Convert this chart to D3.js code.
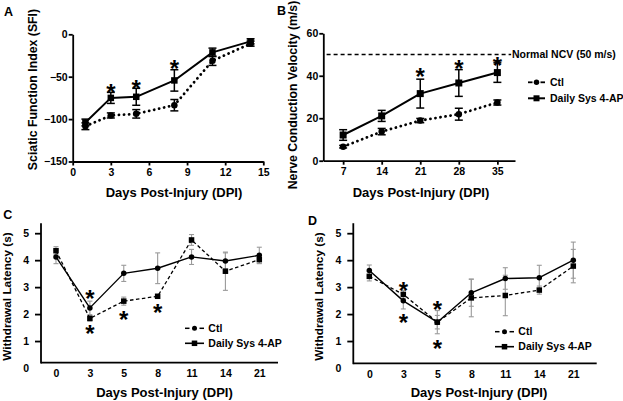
<!DOCTYPE html>
<html><head><meta charset="utf-8">
<script src="https://cdn.jsdelivr.net/npm/d3@7"></script>
<style>
body{margin:0;background:#fff;}
svg{display:block;}
text{font-family:"Liberation Sans",Arial,sans-serif;font-weight:bold;fill:#000;}
</style></head><body>
<svg id="c" width="623" height="401"></svg>
<script>
// ---------- Panel A: Sciatic Function Index ----------
const daysA = [1, 3, 5, 8, 11, 14];
const sfiCtl = [-108.4, -95.7, -93.8, -83.6, -31.2, -11];
const sfiCtlErr = [4, 3, 5, 6.7, 5.5, 3];
const sfiAP = [-104, -75, -73.7, -54.4, -21.3, -8.3];
const sfiAPErr = [4, 6.5, 10, 12.6, 5, 3];
const starsA = [[3, -62.6], [5, -57.9], [8, -34.3]];
const ticksAx = [0, 3, 6, 9, 12, 15];
const ticksAy = [0, -50, -100, -150];

// ---------- Panel B: Nerve Conduction Velocity ----------
const daysB = [7, 14, 21, 28, 35];
const ncvCtl = [6.6, 13.7, 18.9, 21.9, 27.4];
const ncvCtlErr = [0.6, 1.5, 1, 2.8, 1.2];
const ncvAP = [12.1, 21.1, 31.6, 36.6, 41.5];
const ncvAPErr = [2.5, 2.6, 6.8, 6.3, 4.6];
const normalNCV = 50;
const starsB = [[21, 42.3], [28, 45.9], [35, 47.5]];
const ticksBx = [7, 14, 21, 28, 35];
const ticksBy = [0, 20, 40, 60];

// ---------- Panels C & D: Withdrawal Latency ----------
const dpiCD = ["0", "3", "5", "8", "11", "14", "21"];
const ticksCDy = [0, 1, 2, 3, 4, 5];
// C: dashed line with squares, solid line with circles
const latCdash = [4.35, 1.84, 2.48, 2.66, 4.75, 3.59, 4.02];
const latCdashErr = [0.15, 0.1, 0.15, 0, 0.2, 0.71, 0.15];
const latCsolid = [4.12, 2.23, 3.51, 3.70, 4.12, 3.97, 4.18];
const latCsolidErr = [0.25, 0.25, 0.3, 0.57, 0.28, 0.3, 0.3];
const starsC = [["3", 2.79], ["3", 1.49], ["5", 2.0], ["8", 2.27]];
// D
const latDdash = [3.40, 2.73, 1.70, 2.60, 2.69, 2.89, 3.78];
const latDdashErr = [0.17, 0.15, 0.25, 0.7, 0.75, 0.15, 0.62];
const latDsolid = [3.62, 2.49, 1.70, 2.79, 3.32, 3.35, 4.0];
const latDsolidErr = [0.2, 0.3, 0.43, 0.5, 0.4, 0.46, 0.67];
const starsD = [["3", 3.07], ["3", 1.88], ["5", 2.37], ["5", 0.94]];

const legendLabels = ["Ctl", "Daily Sys 4-AP"];
const xTitle = "Days Post-Injury (DPI)";

const svg = d3.select("#c");
const FONT = '"Liberation Sans",Arial,sans-serif';

function styleAxis(sel, fs, w) {
  sel.attr("font-family", FONT).attr("font-size", fs).attr("font-weight", "bold");
  sel.select(".domain").attr("stroke-width", w).attr("stroke", "#000");
  sel.selectAll(".tick line").attr("stroke-width", w).attr("stroke", "#000");
  sel.selectAll(".tick text").attr("fill", "#000");
}
function errorBars(g, xs, ys, errs, x, y, cap, color, w) {
  xs.forEach((d, i) => {
    if (!errs[i]) return;
    const px = x(d), t = y(ys[i] + errs[i]), b = y(ys[i] - errs[i]);
    g.append("line").attr("x1", px).attr("x2", px).attr("y1", t).attr("y2", b)
      .attr("stroke", color).attr("stroke-width", w);
    [t, b].forEach(v => g.append("line").attr("x1", px - cap / 2).attr("x2", px + cap / 2)
      .attr("y1", v).attr("y2", v).attr("stroke", color).attr("stroke-width", w));
  });
}
function seriesLine(g, xs, ys, x, y, w, dash, cap) {
  const line = d3.line().x((d, i) => x(xs[i])).y(d => y(d));
  g.append("path").attr("d", line(ys)).attr("fill", "none").attr("stroke", "#000")
    .attr("stroke-width", w).attr("stroke-dasharray", dash || null)
    .attr("stroke-linecap", cap || "butt").attr("stroke-linejoin", "round");
}
function markers(g, xs, ys, x, y, type, s) {
  xs.forEach((d, i) => {
    const px = x(d), py = y(ys[i]);
    if (type === "sq") g.append("rect").attr("x", px - s / 2).attr("y", py - s / 2)
      .attr("width", s).attr("height", s).attr("fill", "#000");
    else g.append("circle").attr("cx", px).attr("cy", py).attr("r", s / 2).attr("fill", "#000");
  });
}
function stars(g, list, x, y, fs) {
  list.forEach(([a, b]) => g.append("text").attr("x", x(a)).attr("y", y(b) + 0.58 * fs)
    .attr("text-anchor", "middle").attr("font-size", fs).attr("font-weight", "normal").text("*"));
}
function legendRow(g, x0, x1, yy, tx, label, dashed, type, s, w, fs) {
  const mid = (x0 + x1) / 2;
  if (dashed) {
    g.append("line").attr("x1", x0).attr("x2", x0 + 4.5).attr("y1", yy).attr("y2", yy)
      .attr("stroke", "#000").attr("stroke-width", w);
    g.append("line").attr("x1", x1 - 4.5).attr("x2", x1).attr("y1", yy).attr("y2", yy)
      .attr("stroke", "#000").attr("stroke-width", w);
  } else {
    g.append("line").attr("x1", x0).attr("x2", x1).attr("y1", yy).attr("y2", yy)
      .attr("stroke", "#000").attr("stroke-width", w);
  }
  if (type === "sq") g.append("rect").attr("x", mid - s / 2).attr("y", yy - s / 2)
    .attr("width", s).attr("height", s);
  else g.append("circle").attr("cx", mid).attr("cy", yy).attr("r", s / 2);
  g.append("text").attr("x", tx).attr("y", yy + 0.36 * fs).attr("font-size", fs).text(label);
}
function yTitle(g, x, y, fs, txt) {
  g.append("text").attr("transform", `translate(${x},${y}) rotate(-90)`)
    .attr("text-anchor", "middle").attr("font-size", fs).text(txt);
}
function label(g, x, y, txt) {
  g.append("text").attr("x", x).attr("y", y).attr("font-size", 12.5).text(txt);
}

// ================= Panel A =================
{
  const g = svg.append("g");
  const x = d3.scaleLinear().domain([0, 15]).range([72.7, 263.3]);
  const y = d3.scaleLinear().domain([-150, 0]).range([161.5, 34.3]);
  g.append("g").attr("transform", "translate(0,161.5)")
    .call(d3.axisBottom(x).tickValues(ticksAx).tickSize(4).tickSizeOuter(0).tickPadding(3))
    .call(s => styleAxis(s, 10.5, 1.8));
  g.append("g").attr("transform", "translate(72.7,0)")
    .call(d3.axisLeft(y).tickValues(ticksAy).tickSize(4).tickSizeOuter(0).tickPadding(1))
    .call(s => styleAxis(s, 10.5, 1.8));
  errorBars(g, daysA, sfiCtl, sfiCtlErr, x, y, 8, "#000", 1.5);
  errorBars(g, daysA, sfiAP, sfiAPErr, x, y, 8, "#000", 1.5);
  seriesLine(g, daysA, sfiCtl, x, y, 2.8, "0.1,5", "round");
  seriesLine(g, daysA, sfiAP, x, y, 2);
  markers(g, daysA, sfiCtl, x, y, "ci", 6.5);
  markers(g, daysA, sfiAP, x, y, "sq", 6.5);
  stars(g, starsA, x, y, 24);
  yTitle(g, 37, 89.5, 12.3, "Sciatic Function Index (SFI)");
  g.append("text").attr("x", 174).attr("y", 196.5).attr("text-anchor", "middle")
    .attr("font-size", 13).text(xTitle);
  label(g, 4, 15.5, "A");
}

// ================= Panel B =================
{
  const g = svg.append("g");
  const x = d3.scaleLinear().domain([3.4, 38.2]).range([323.3, 515]);
  const y = d3.scaleLinear().domain([0, 60]).range([160.7, 33.3]);
  g.append("g").attr("transform", "translate(0,160.7)")
    .call(d3.axisBottom(x).tickValues(ticksBx).tickSize(4).tickSizeOuter(0).tickPadding(3))
    .call(s => styleAxis(s, 10.5, 1.8));
  g.append("g").attr("transform", "translate(323.3,0)")
    .call(d3.axisLeft(y).tickValues(ticksBy).tickSize(4).tickSizeOuter(0).tickPadding(1))
    .call(s => styleAxis(s, 10.5, 1.8));
  g.append("line").attr("x1", x(4)).attr("x2", x(37.5)).attr("y1", y(normalNCV)).attr("y2", y(normalNCV))
    .attr("stroke", "#000").attr("stroke-width", 1.6).attr("stroke-dasharray", "4,3");
  g.append("text").attr("x", 512).attr("y", y(normalNCV) + 3.8).attr("font-size", 10.5)
    .text("Normal NCV (50 m/s)");
  errorBars(g, daysB, ncvCtl, ncvCtlErr, x, y, 8, "#000", 1.5);
  errorBars(g, daysB, ncvAP, ncvAPErr, x, y, 8, "#000", 1.5);
  seriesLine(g, daysB, ncvCtl, x, y, 2.8, "0.1,5", "round");
  seriesLine(g, daysB, ncvAP, x, y, 2);
  markers(g, daysB, ncvCtl, x, y, "ci", 6.5);
  markers(g, daysB, ncvAP, x, y, "sq", 7);
  stars(g, starsB, x, y, 24);
  yTitle(g, 296.5, 95, 12.3, "Nerve Conduction Velocity (m/s)");
  g.append("text").attr("x", 421).attr("y", 196.5).attr("text-anchor", "middle")
    .attr("font-size", 13).text(xTitle);
  legendRow(g, 528, 545, 82.3, 550, legendLabels[0], true, "ci", 5.5, 1.8, 10.5);
  legendRow(g, 528, 545, 98.3, 550, legendLabels[1], false, "sq", 6, 2, 10.5);
  label(g, 277, 15, "B");
}

// ================= Panels C & D =================
function drawLatency(cfg) {
  const g = svg.append("g");
  const x = d3.scalePoint().domain(dpiCD).range([cfg.x0, cfg.x1]);
  const y = d3.scaleLinear().domain([0, 5]).range([368, 233.2]);
  // axes
  const ax = g.append("g").attr("transform", `translate(0,${cfg.axisY})`)
    .call(d3.axisBottom(x).tickSize(0).tickPadding(7))
    .call(s => styleAxis(s, 10.5, 1.8));
  ax.select(".domain").remove();
  g.append("line").attr("x1", cfg.axisX).attr("x2", cfg.axisEnd).attr("y1", cfg.axisY).attr("y2", cfg.axisY)
    .attr("stroke", "#000").attr("stroke-width", 1.8);
  const ay = g.append("g").attr("transform", `translate(${cfg.axisX},0)`)
    .call(d3.axisLeft(y).tickValues(ticksCDy).tickFormat(d3.format("d")).tickSize(6).tickSizeOuter(0).tickPadding(6))
    .call(s => styleAxis(s, 10.5, 1.8));
  ay.select(".domain").remove();
  ay.selectAll(".tick").filter(d => d === 0).select("line").remove();
  g.append("line").attr("x1", cfg.axisX).attr("x2", cfg.axisX).attr("y1", y(5.37)).attr("y2", cfg.axisY + 0.9)
    .attr("stroke", "#000").attr("stroke-width", 1.8);
  // data
  errorBars(g, dpiCD, cfg.dash, cfg.dashErr, x, y, 5, "#9a9a9a", 1.1);
  errorBars(g, dpiCD, cfg.solid, cfg.solidErr, x, y, 5, "#9a9a9a", 1.1);
  seriesLine(g, dpiCD, cfg.dash, x, y, 1.3, "3.5,2.5");
  seriesLine(g, dpiCD, cfg.solid, x, y, 1.4);
  markers(g, dpiCD, cfg.dash, x, y, "sq", 5.5);
  markers(g, dpiCD, cfg.solid, x, y, "ci", 5.5);
  stars(g, cfg.stars, x, y, 24);
  yTitle(g, cfg.ytX, 296.5, 11.8, "Withdrawal Latency (s)");
  g.append("text").attr("x", cfg.xtX).attr("y", 397).attr("text-anchor", "middle")
    .attr("font-size", 13).text(xTitle);
  legendRow(g, cfg.lx0, cfg.lx0 + 19, cfg.ly, cfg.lx0 + 23.3, legendLabels[0], true, "ci", 5, 1.5, 10.5);
  legendRow(g, cfg.lx0, cfg.lx0 + 19, cfg.ly + 15, cfg.lx0 + 23.3, legendLabels[1], false, "sq", 5.5, 1.6, 10.5);
  label(g, cfg.lblX, cfg.lblY, cfg.lbl);
}
drawLatency({ x0: 56, x1: 259.3, axisX: 41, axisEnd: 278, axisY: 362.7,
  dash: latCdash, dashErr: latCdashErr, solid: latCsolid, solidErr: latCsolidErr, stars: starsC,
  ytX: 10.5, xtX: 164.5, lx0: 185, ly: 328.3, lbl: "C", lblX: 3.3, lblY: 218.5 });
drawLatency({ x0: 369.3, x1: 573.3, axisX: 353.3, axisEnd: 596.7, axisY: 363.3,
  dash: latDdash, dashErr: latDdashErr, solid: latDsolid, solidErr: latDsolidErr, stars: starsD,
  ytX: 323, xtX: 479, lx0: 495, ly: 331.7, lbl: "D", lblX: 308, lblY: 225 });
</script>
</body></html>
